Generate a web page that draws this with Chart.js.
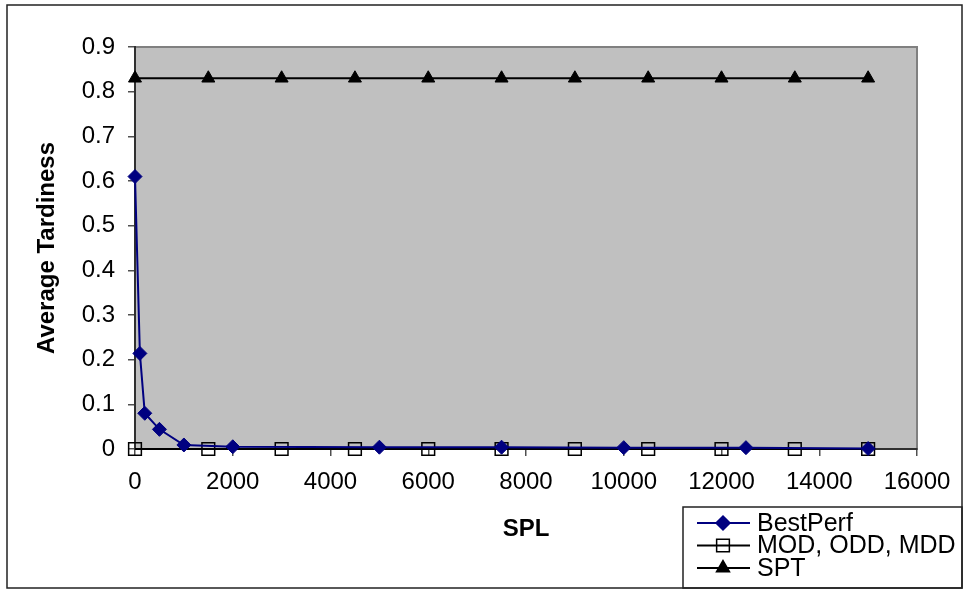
<!DOCTYPE html>
<html>
<head>
<meta charset="utf-8">
<script src="https://cdn.jsdelivr.net/npm/chart.js@4/dist/chart.umd.min.js"></script>
<style>
  html, body { margin: 0; padding: 0; background: #fff; }
  canvas { display: block; }
</style>
</head>
<body>
<canvas id="chart" width="965" height="590"></canvas>
<script>
// data
const bestPerfX = [0, 100, 200, 500, 1000, 2000, 5000, 7500, 10000, 12500, 15000];
const bestPerfY = [0.61, 0.214, 0.08, 0.044, 0.009, 0.005, 0.004, 0.004, 0.003, 0.003, 0.001];
const splX = [0, 1500, 3000, 4500, 6000, 7500, 9000, 10500, 12000, 13500, 15000];
const modY = [0, 0, 0, 0, 0, 0, 0, 0, 0, 0, 0];
const sptY = [0.83, 0.83, 0.83, 0.83, 0.83, 0.83, 0.83, 0.83, 0.83, 0.83, 0.83];
const seriesNames = ['BestPerf', 'MOD, ODD, MDD', 'SPT'];

const FONT = '"Liberation Sans", Arial, sans-serif';
const toPoints = (xs, ys) => xs.map((x, i) => ({ x: x, y: ys[i] }));

// simple marker paths, used by the hand-drawn legend
function marker(ctx, style, x, y, r) {
  ctx.beginPath();
  if (style === 'rectRot') {
    ctx.moveTo(x, y - r); ctx.lineTo(x + r, y); ctx.lineTo(x, y + r); ctx.lineTo(x - r, y);
    ctx.closePath();
  } else if (style === 'rect') {
    const s = r * Math.SQRT1_2;
    ctx.rect(x - s, y - s, 2 * s, 2 * s);
  } else {
    ctx.moveTo(x, y - r);
    ctx.lineTo(x + r * 0.866, y + r * 0.5);
    ctx.lineTo(x - r * 0.866, y + r * 0.5);
    ctx.closePath();
  }
}

const framePlugin = {
  id: 'frame',
  beforeDraw(chart) {
    const { ctx, chartArea: a } = chart;
    ctx.save();
    ctx.fillStyle = '#c0c0c0';
    ctx.fillRect(a.left, a.top, a.right - a.left, a.bottom - a.top);
    ctx.strokeStyle = '#808080';
    ctx.lineWidth = 2;
    ctx.strokeRect(a.left, a.top, a.right - a.left, a.bottom - a.top);
    ctx.restore();
  },
  afterDraw(chart) {
    const ctx = chart.ctx;
    ctx.save();
    // outer border
    ctx.strokeStyle = '#222';
    ctx.lineWidth = 1.5;
    ctx.strokeRect(7, 5, 955, 583);
    // legend box
    ctx.strokeRect(683, 507, 279, 81);
    ctx.font = '25px ' + FONT;
    ctx.textBaseline = 'middle';
    ctx.textAlign = 'left';
    chart.data.datasets.forEach((ds, i) => {
      const y = 523 + i * 22.5;
      ctx.strokeStyle = ds.borderColor;
      ctx.lineWidth = 2;
      ctx.beginPath();
      ctx.moveTo(697, y); ctx.lineTo(750, y);
      ctx.stroke();
      marker(ctx, ds.pointStyle, 723, y, ds.pointRadius);
      ctx.fillStyle = ds.pointBackgroundColor;
      if (ds.pointBackgroundColor !== 'transparent') ctx.fill();
      ctx.lineWidth = 1.5;
      ctx.strokeStyle = ds.pointBorderColor;
      ctx.stroke();
      ctx.fillStyle = '#000';
      ctx.fillText(ds.label, 757, y + 1);
    });
    ctx.restore();
  }
};

new Chart(document.getElementById('chart'), {
  type: 'scatter',
  data: {
    datasets: [
      {
        label: seriesNames[0],
        data: toPoints(bestPerfX, bestPerfY),
        showLine: true,
        borderColor: '#000080',
        borderWidth: 2,
        pointStyle: 'rectRot',
        pointRadius: 7,
        pointBackgroundColor: '#000080',
        pointBorderColor: '#000080',
        pointBorderWidth: 1,
        clip: false
      },
      {
        label: seriesNames[1],
        data: toPoints(splX, modY),
        showLine: true,
        borderColor: '#000',
        borderWidth: 2,
        pointStyle: 'rect',
        pointRadius: 9,
        pointBackgroundColor: 'transparent',
        pointBorderColor: '#000',
        pointBorderWidth: 1.5,
        clip: false
      },
      {
        label: seriesNames[2],
        data: toPoints(splX, sptY),
        showLine: true,
        borderColor: '#000',
        borderWidth: 2,
        pointStyle: 'triangle',
        pointRadius: 7.5,
        pointBackgroundColor: '#000',
        pointBorderColor: '#000',
        pointBorderWidth: 1,
        clip: false
      }
    ]
  },
  options: {
    responsive: false,
    animation: false,
    events: [],
    layout: { padding: { top: 47, right: 48, left: 0, bottom: 0 } },
    plugins: { legend: { display: false }, tooltip: { enabled: false } },
    scales: {
      x: {
        type: 'linear',
        min: 0,
        max: 16000,
        afterFit: s => { s.height = 141; },
        border: { display: true, color: '#303030', width: 2 },
        grid: { display: true, drawOnChartArea: false, drawTicks: true, tickLength: 7, color: '#505050', lineWidth: 1.5 },
        ticks: {
          stepSize: 2000,
          padding: 12,
          color: '#000',
          font: { family: FONT, size: 24 },
          maxRotation: 0,
          callback: v => String(v)
        },
        title: {
          display: true,
          text: 'SPL',
          color: '#000',
          font: { family: FONT, size: 24, weight: 'bold' },
          padding: { top: 0, bottom: 46 }
        }
      },
      y: {
        min: 0,
        max: 0.9,
        afterFit: s => { s.width = 135; },
        border: { display: true, color: '#303030', width: 2 },
        grid: { display: true, drawOnChartArea: false, drawTicks: true, tickLength: 7, color: '#505050', lineWidth: 1.5 },
        ticks: {
          stepSize: 0.1,
          padding: 13,
          color: '#000',
          font: { family: FONT, size: 24 },
          callback: v => String(+v.toFixed(1))
        },
        title: {
          display: true,
          text: 'Average Tardiness',
          color: '#000',
          font: { family: FONT, size: 24, weight: 'bold' },
          padding: { top: 33, bottom: 0 }
        }
      }
    }
  },
  plugins: [framePlugin]
});
</script>
</body>
</html>
